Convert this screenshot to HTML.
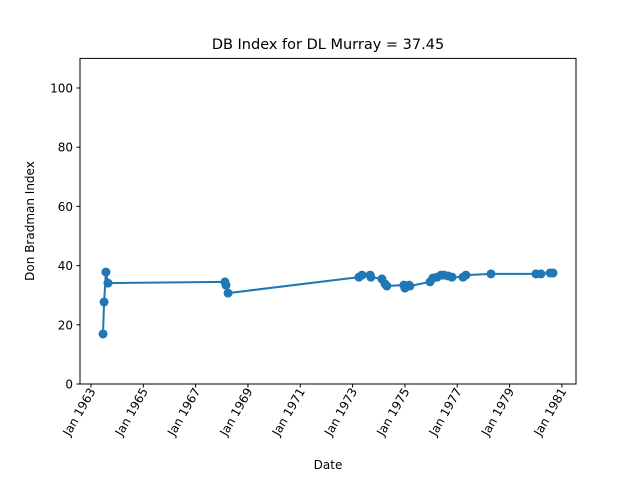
<!DOCTYPE html>
<html><head><meta charset="utf-8"><style>
body{margin:0;background:#fff;}
svg{display:block;font-family:"DejaVu Sans","Liberation Sans",sans-serif;}
</style></head><body>
<svg id="chart" width="640" height="480" viewBox="0 0 640 480">
<text x="328" y="49" font-size="14.5" text-anchor="middle">DB Index for DL Murray = 37.45</text>
<g id="yticks"></g><g id="xticks"></g>
<text x="328" y="469" font-size="12" text-anchor="middle">Date</text>
<text transform="translate(34,221) rotate(-90)" font-size="12" text-anchor="middle">Don Bradman Index</text>
<g id="series"></g>
<rect x="80" y="58.4" width="496" height="325.6" fill="none" stroke="#000" stroke-width="1"/>
</svg>
<script>
const dates=[1963.46,1963.50,1963.57,1963.65,1968.12,1968.16,1968.24,1973.24,1973.36,1973.67,1973.70,1974.12,1974.24,1974.31,1974.96,1975.00,1975.16,1975.19,1975.96,1976.07,1976.23,1976.38,1976.49,1976.65,1976.80,1977.22,1977.33,1978.29,1980.01,1980.20,1980.55,1980.66];
const values=[16.9,27.7,37.8,34.1,34.5,33.4,30.7,36.1,36.8,36.8,36.1,35.5,33.8,33.1,33.4,32.4,33.4,33.1,34.5,35.8,36.1,36.8,36.8,36.5,36.1,36.1,36.8,37.2,37.2,37.2,37.5,37.5];
const yTicks=[0,20,40,60,80,100];
const xTickYears=[1963,1965,1967,1969,1971,1973,1975,1977,1979,1981];
const NS="http://www.w3.org/2000/svg";
function sx(yr){return 91+(yr-1963)*26.16;}
function sy(v){return 384-v*2.96;}
function mk(tag,attrs,parent){const e=document.createElementNS(NS,tag);for(const k in attrs)e.setAttribute(k,attrs[k]);parent.appendChild(e);return e;}
const yg=document.getElementById('yticks');
yTicks.forEach(t=>{
  const l=mk('line',{x1:76.5,x2:80,y1:sy(t),y2:sy(t),stroke:'#000'},yg);
  
  
  const tx=mk('text',{x:73,y:sy(t)+4.5,'font-size':12,'text-anchor':'end'},yg);
  tx.textContent=t;
  
  
});
const xg=document.getElementById('xticks');
xTickYears.forEach(y=>{
  const x=sx(y);
  const l=mk('line',{x1:x,x2:x,y1:384,y2:387.5,stroke:'#000'},xg);
  
  
  const tx=mk('text',{transform:`translate(${x+5},391) rotate(-60)`,'font-size':12,'text-anchor':'end'},xg);
  tx.textContent='Jan '+y;
  
  
});
const sg=document.getElementById('series');
const pts=dates.map((d,i)=>sx(d).toFixed(1)+','+sy(values[i]).toFixed(1)).join(' ');
const pl=mk('polyline',{points:pts,fill:'none',stroke:'#1f77b4','stroke-width':2},sg);


dates.forEach((d,i)=>{
  const c=mk('circle',{cx:sx(d),cy:sy(values[i]),r:4.5,fill:'#1f77b4'},sg);
  
  
});
</script>
</body></html>
